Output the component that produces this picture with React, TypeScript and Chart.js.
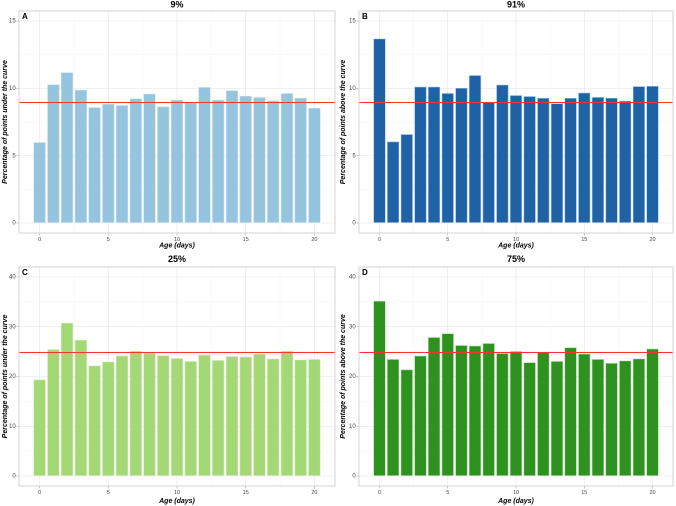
import React, { useEffect, useRef } from "react";
import { Chart, registerables } from "chart.js";

Chart.register(...registerables);

const ages = [0, 1, 2, 3, 4, 5, 6, 7, 8, 9, 10, 11, 12, 13, 14, 15, 16, 17, 18, 19, 20];
const underCurve9 = [6.0, 10.3, 11.2, 9.9, 8.6, 8.85, 8.75, 9.25, 9.6, 8.65, 9.15, 8.95, 10.1, 9.15, 9.85, 9.45, 9.35, 9.1, 9.65, 9.3, 8.55];
const aboveCurve91 = [13.7, 6.05, 6.6, 10.13, 10.13, 9.65, 10.03, 10.98, 9.0, 10.28, 9.5, 9.42, 9.29, 8.88, 9.29, 9.68, 9.36, 9.3, 9.08, 10.16, 10.18];
const underCurve25 = [19.4, 25.5, 30.8, 27.35, 22.2, 23.0, 24.2, 25.15, 24.8, 24.25, 23.7, 23.1, 24.4, 23.3, 24.1, 24.0, 24.6, 23.6, 25.15, 23.4, 23.5];
const aboveCurve75 = [35.2, 23.5, 21.4, 24.2, 27.9, 28.65, 26.3, 26.2, 26.7, 24.7, 25.1, 22.85, 24.9, 23.1, 25.85, 24.6, 23.5, 22.7, 23.2, 23.6, 25.6];

const panelTitles = ["9%", "91%", "25%", "75%"];
const panelLetters = ["A", "B", "C", "D"];
const yTitles = [
  "Percentage of points under the curve",
  "Percentage of points above the curve",
  "Percentage of points under the curve",
  "Percentage of points above the curve",
];
const xTitle = "Age (days)";
const refLevels = [9, 9, 25, 25];
const xMajorTicks = [0, 5, 10, 15, 20];
const xMinorTicks = [2.5, 7.5, 12.5, 17.5];
const yMajorTicksTop = [0, 5, 10, 15];
const yMinorTicksTop = [2.5, 7.5, 12.5];
const yMajorTicksBottom = [0, 10, 20, 30, 40];
const yMinorTicksBottom = [5, 15, 25, 35];

const FONT = '"Liberation Sans", Arial, sans-serif';

type Panel = {
  values: number[];
  title: string;
  letter: string;
  yTitle: string;
  ref: number;
  yMajor: number[];
  yMinor: number[];
  yMin: number;
  yMax: number;
  fill: string;
  edge: string;
  left: number;
  top: number;
  padTop: number;
  yAxisWidth: number;
  titleY: number;
  xTitlePad: number;
};

const panels: Panel[] = [
  { values: underCurve9, title: panelTitles[0], letter: panelLetters[0], yTitle: yTitles[0], ref: refLevels[0], yMajor: yMajorTicksTop, yMinor: yMinorTicksTop, yMin: -0.75, yMax: 15.75, fill: "#96c4de", edge: "#c9e1ef", left: 0, top: 0, padTop: 11, yAxisWidth: 19, titleY: 5, xTitlePad: 3 },
  { values: aboveCurve91, title: panelTitles[1], letter: panelLetters[1], yTitle: yTitles[1], ref: refLevels[1], yMajor: yMajorTicksTop, yMinor: yMinorTicksTop, yMin: -0.75, yMax: 15.75, fill: "#1f62a6", edge: "#a9c9e6", left: 338, top: 0, padTop: 11, yAxisWidth: 21, titleY: 5, xTitlePad: 3 },
  { values: underCurve25, title: panelTitles[2], letter: panelLetters[2], yTitle: yTitles[2], ref: refLevels[2], yMajor: yMajorTicksBottom, yMinor: yMinorTicksBottom, yMin: -2, yMax: 42, fill: "#a4d875", edge: "#d3edc0", left: 0, top: 253, padTop: 14, yAxisWidth: 19, titleY: 6.5, xTitlePad: 0.6 },
  { values: aboveCurve75, title: panelTitles[3], letter: panelLetters[3], yTitle: yTitles[3], ref: refLevels[3], yMajor: yMajorTicksBottom, yMinor: yMinorTicksBottom, yMin: -2, yMax: 42, fill: "#2e921f", edge: "#b5d9ae", left: 338, top: 253, padTop: 14, yAxisWidth: 21, titleY: 6.5, xTitlePad: 0.6 },
];

const decorPlugin = {
  id: "decor",
  afterDatasetsDraw(chart: any, _args: any, opts: any) {
    const { ctx, chartArea: a, scales } = chart;
    ctx.save();
    const y = Math.round(scales.y.getPixelForValue(opts.ref)) + 0.5;
    ctx.strokeStyle = "#ff3030";
    ctx.lineWidth = 1;
    ctx.beginPath();
    ctx.moveTo(a.left, y);
    ctx.lineTo(a.right, y);
    ctx.stroke();
    ctx.strokeStyle = "#cfcfcf";
    ctx.lineWidth = 0.9;
    ctx.strokeRect(a.left, a.top, a.right - a.left, a.bottom - a.top);
    ctx.fillStyle = "#000";
    ctx.font = `bold 8px ${FONT}`;
    ctx.textAlign = "left";
    ctx.textBaseline = "top";
    ctx.fillText(opts.letter, a.left + 3, a.top + 2);
    ctx.font = `bold 9px ${FONT}`;
    ctx.textAlign = "center";
    ctx.textBaseline = "middle";
    ctx.fillText(opts.title, (a.left + a.right) / 2, opts.titleY);
    ctx.restore();
  },
};

function PanelChart({ p }: { p: Panel }) {
  const ref = useRef<HTMLCanvasElement | null>(null);
  useEffect(() => {
    if (!ref.current) return;
    const xMajSet = new Set(xMajorTicks);
    const yMajSet = new Set(p.yMajor);
    const chart = new Chart(ref.current, {
      type: "bar",
      data: {
        datasets: [
          {
            data: ages.map((a, i) => ({ x: a, y: p.values[i] })),
            backgroundColor: p.fill,
            borderColor: p.edge,
            borderWidth: 0.6,
            barPercentage: 0.9,
            categoryPercentage: 1,
          } as any,
        ],
      },
      options: {
        animation: false,
        responsive: false,
        devicePixelRatio: 2,
        layout: { padding: { left: 0, right: 3, top: p.padTop, bottom: 0 } },
        plugins: {
          legend: { display: false },
          tooltip: { enabled: false },
          decor: { ref: p.ref, letter: p.letter, title: p.title, titleY: p.titleY },
        } as any,
        scales: {
          x: {
            type: "linear",
            min: -1.5,
            max: 21.5,
            offset: false,
            afterBuildTicks: (s: any) => {
              s.ticks = [...xMajorTicks, ...xMinorTicks].sort((m, n) => m - n).map((v) => ({ value: v }));
            },
            afterFit: (s: any) => {
              s.height = 20;
            },
            border: { display: false },
            grid: {
              offset: false,
              color: (c: any) => (xMajSet.has(c.tick?.value) ? "#ebebeb" : "#f4f4f4"),
              lineWidth: (c: any) => (xMajSet.has(c.tick?.value) ? 0.8 : 0.5),
              tickColor: (c: any) => (xMajSet.has(c.tick?.value) ? "#c0c0c0" : "rgba(0,0,0,0)"),
              tickLength: 2.5,
            },
            ticks: {
              autoSkip: false,
              maxRotation: 0,
              padding: 0.5,
              color: "#444444",
              font: { size: 5.5, family: FONT },
              callback: (v: any) => (xMajSet.has(Number(v)) ? String(v) : ""),
            },
            title: {
              display: true,
              text: xTitle,
              color: "#000",
              font: { size: 7, weight: "bold", style: "italic", family: FONT },
              padding: { top: 0, bottom: p.xTitlePad },
            },
          },
          y: {
            type: "linear",
            min: p.yMin,
            max: p.yMax,
            afterBuildTicks: (s: any) => {
              s.ticks = [...p.yMajor, ...p.yMinor].sort((m, n) => m - n).map((v) => ({ value: v }));
            },
            afterFit: (s: any) => {
              s.width = p.yAxisWidth;
            },
            border: { display: false },
            grid: {
              color: (c: any) => (yMajSet.has(c.tick?.value) ? "#ebebeb" : "#f4f4f4"),
              lineWidth: (c: any) => (yMajSet.has(c.tick?.value) ? 0.8 : 0.5),
              tickColor: (c: any) => (yMajSet.has(c.tick?.value) ? "#c0c0c0" : "rgba(0,0,0,0)"),
              tickLength: 2.5,
            },
            ticks: {
              autoSkip: false,
              padding: 0.8,
              color: "#444444",
              font: { size: 6, family: FONT },
              callback: (v: any) => (yMajSet.has(Number(v)) ? String(v) : ""),
            },
            title: {
              display: true,
              text: p.yTitle,
              color: "#000",
              font: { size: 7, weight: "bold", style: "italic", family: FONT },
              padding: { top: 1, bottom: 0 },
            },
          },
        },
      },
      plugins: [decorPlugin],
    } as any);
    return () => chart.destroy();
  }, [p]);
  return (
    <canvas
      ref={ref}
      width={338}
      height={253}
      style={{ position: "absolute", left: p.left, top: p.top, width: 338, height: 253 }}
    />
  );
}

export default function App() {
  return (
    <div style={{ position: "absolute", left: 0, top: 0, width: 676, height: 506, background: "#ffffff", overflow: "hidden" }}>
      {panels.map((p) => (
        <PanelChart key={p.letter} p={p} />
      ))}
    </div>
  );
}
